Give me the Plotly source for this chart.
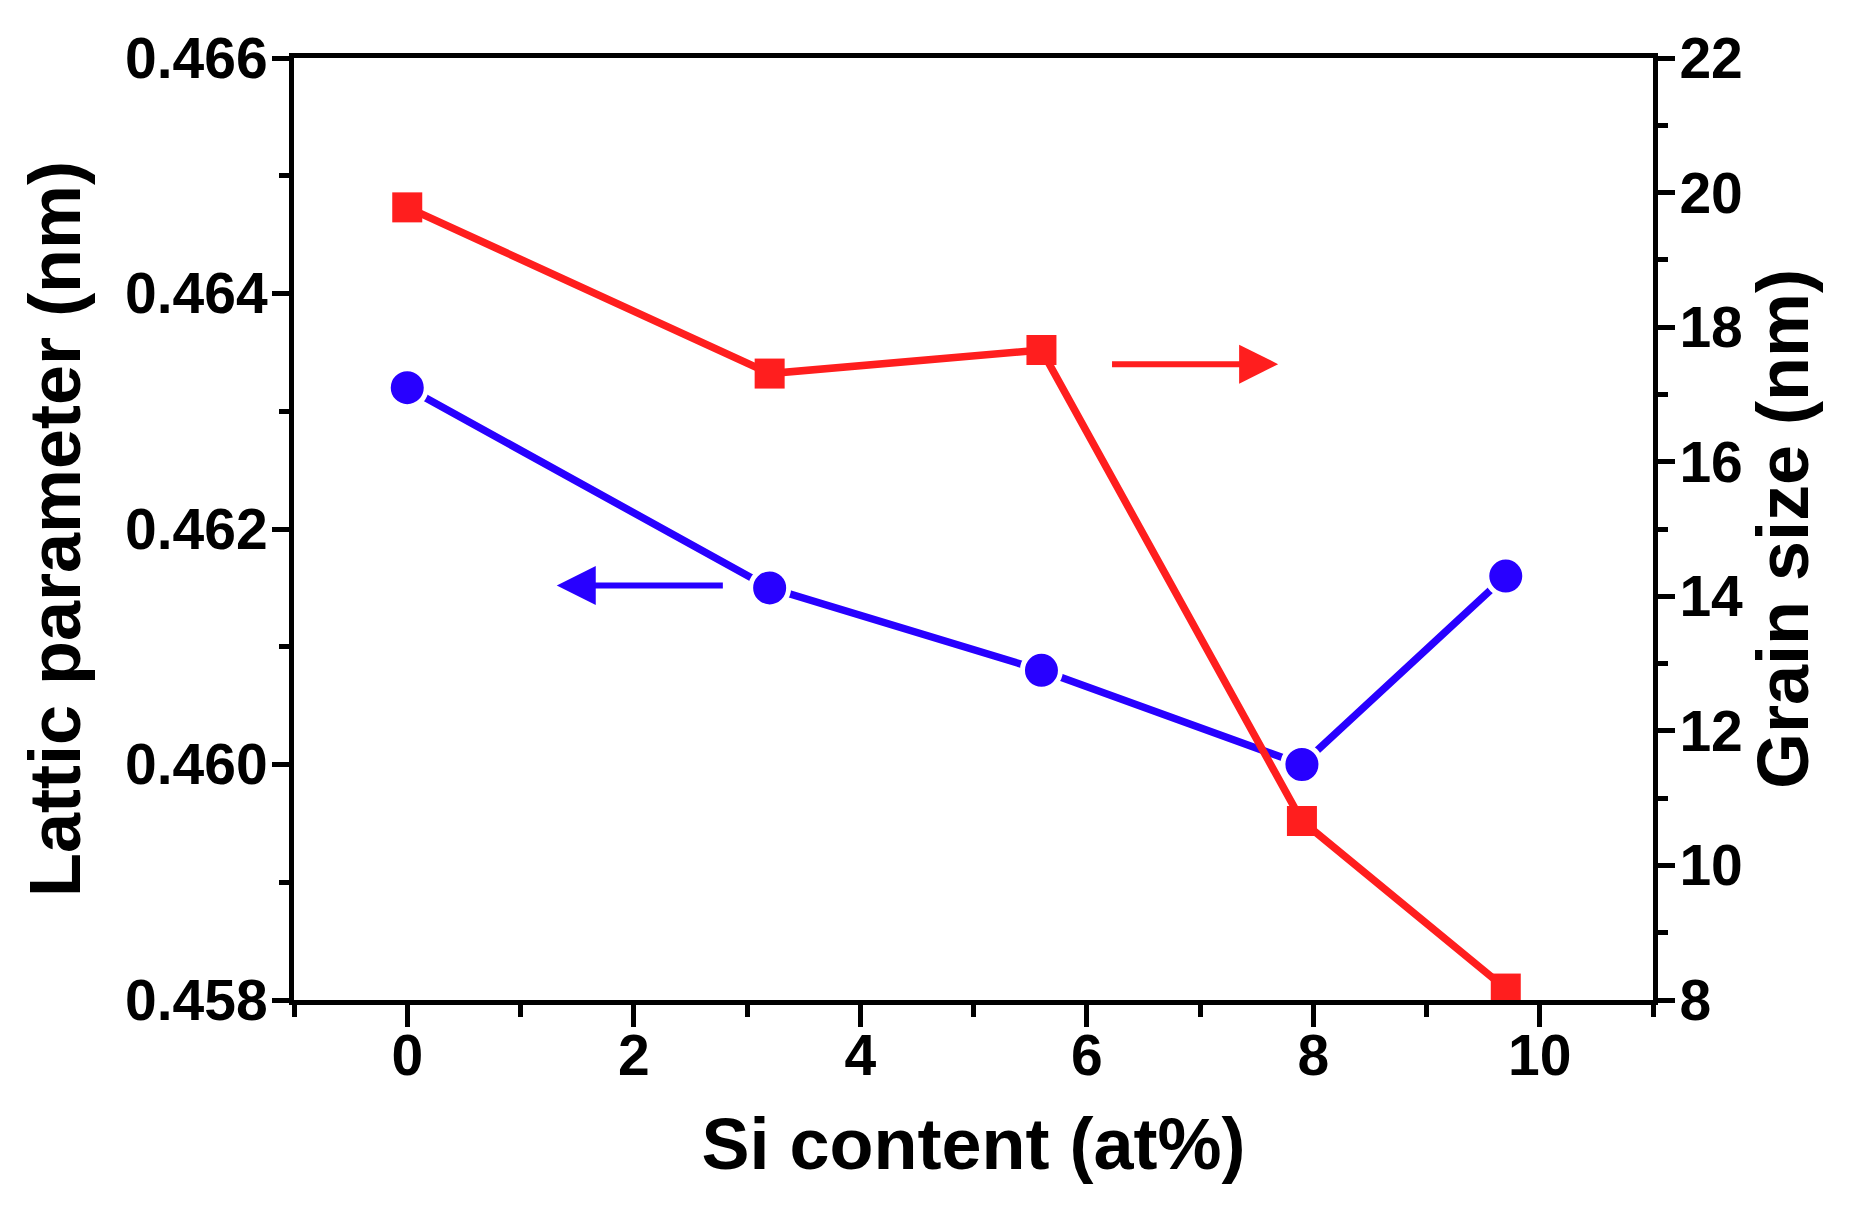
import plotly.graph_objects as go

# Data
si_content = [0, 3.2, 5.6, 7.9, 9.7]
lattice_param = [0.4632, 0.4615, 0.4608, 0.4600, 0.4616]
grain_size = [19.78, 17.31, 17.66, 10.66, 8.17]

x_ticks = [0, 2, 4, 6, 8, 10]
left_ticks = [0.458, 0.460, 0.462, 0.464, 0.466]
right_ticks = [8, 10, 12, 14, 16, 18, 20, 22]

BLUE = "rgb(40,0,255)"
RED = "rgb(255,30,30)"
FONT = "Liberation Sans, Arial, sans-serif"

fig = go.Figure()

fig.add_trace(go.Scatter(
    x=si_content, y=lattice_param, mode="lines+markers",
    line=dict(color=BLUE, width=7.5),
    marker=dict(symbol="circle", size=38, color=BLUE, line=dict(color="white", width=5)),
    yaxis="y", showlegend=False, cliponaxis=False,
))
fig.add_trace(go.Scatter(
    x=si_content, y=grain_size, mode="lines+markers",
    line=dict(color=RED, width=7.5),
    marker=dict(symbol="square", size=30, color=RED, line=dict(width=0)),
    yaxis="y2", showlegend=False, cliponaxis=False,
))

axis_common = dict(
    showline=True, linecolor="black", linewidth=5,
    ticks="outside", tickcolor="black", tickwidth=5,
    showgrid=False, zeroline=False,
    tickfont=dict(family=FONT, size=57, color="black", weight="bold"),
)

fig.update_layout(
    width=1856, height=1230, autosize=False,
    margin=dict(l=286, r=211, t=50, b=238),
    paper_bgcolor="white", plot_bgcolor="white",
    xaxis=dict(
        **axis_common, range=[-1, 11], tickvals=x_ticks, ticklen=22,
        mirror=True, ticklabelstandoff=-20,
        minor=dict(ticks="outside", ticklen=12, tickwidth=5, tickcolor="black", dtick=1, showgrid=False),
        title=dict(text="<b>Si content (at%)</b>", font=dict(family=FONT, size=72, color="black"), standoff=34),
    ),
    yaxis=dict(
        **axis_common, range=[0.458, 0.466], tickvals=left_ticks, tickformat=".3f", ticklen=17,
        ticklabelstandoff=-7,
        minor=dict(ticks="outside", ticklen=10, tickwidth=5, tickcolor="black", dtick=0.001, showgrid=False),
        title=dict(text="<b>Lattic parameter (nm)</b>", font=dict(family=FONT, size=72, color="black"), standoff=22),
    ),
    yaxis2=dict(
        **axis_common, range=[8, 22], tickvals=right_ticks, ticklen=17,
        overlaying="y", side="right", ticklabelstandoff=-7,
        minor=dict(ticks="outside", ticklen=10, tickwidth=5, tickcolor="black", dtick=1, showgrid=False),
        title=dict(text="<b>Grain size (nm)</b>", font=dict(family=FONT, size=72, color="black"), standoff=14),
    ),
)

# Direction arrows
fig.add_annotation(
    x=1.32, y=0.46152, ax=2.80, ay=0.46152, xref="x", yref="y", axref="x", ayref="y",
    text="", showarrow=True, arrowhead=2, arrowsize=1.3, arrowwidth=6, arrowcolor=BLUE, standoff=0,
)
fig.add_annotation(
    x=7.69, y=17.45, ax=6.21, ay=17.45, xref="x", yref="y2", axref="x", ayref="y2",
    text="", showarrow=True, arrowhead=2, arrowsize=1.3, arrowwidth=6, arrowcolor=RED, standoff=0,
)

fig.write_html("out.html")
